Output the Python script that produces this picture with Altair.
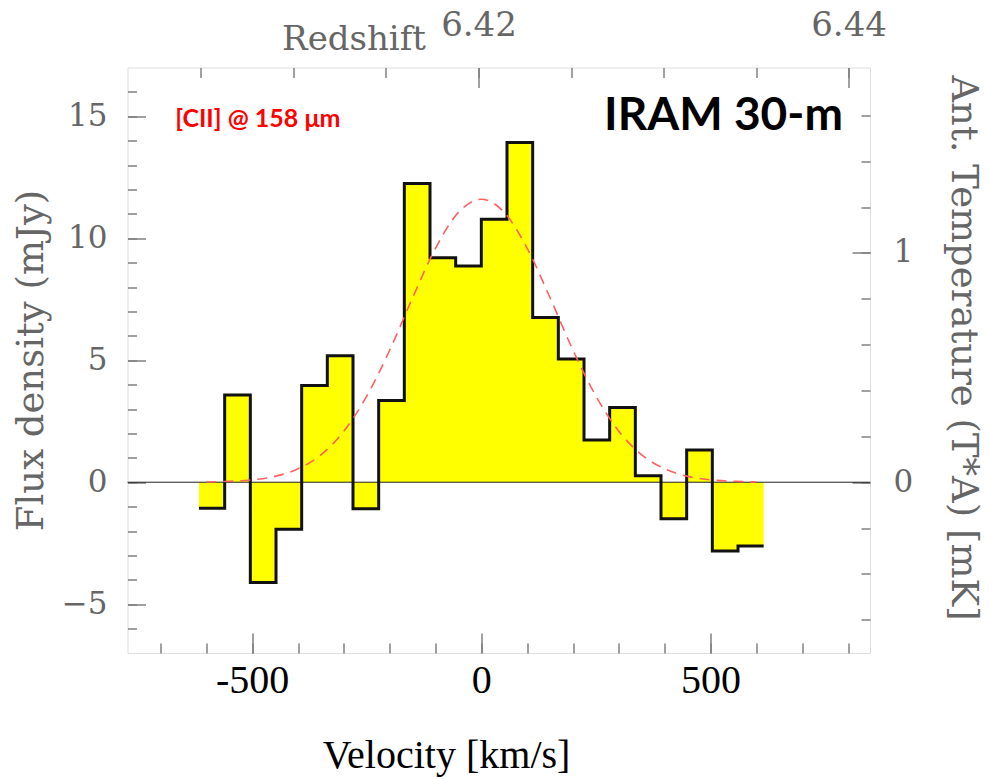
import altair as alt
import pandas as pd

# ---------------- data ----------------
bin_left = [-616, -560, -504, -448, -392, -336, -280, -224, -168, -112, -56,
            0, 56, 112, 168, 224, 280, 336, 392, 448, 504, 560]
bin_width = 56
flux = [-1.07, 3.58, -4.11, -1.93, 3.96, 5.18, -1.09, 3.35, 12.25, 9.20, 8.86,
        10.78, 13.93, 6.75, 5.05, 1.73, 3.06, 0.27, -1.50, 1.32, -2.82, -2.61]

fit_v = [-600, -550, -500, -450, -400, -350, -300, -250, -200, -150, -100, -50, 0,
         50, 100, 150, 200, 250, 300, 350, 400, 450, 500, 550, 600]
fit_flux = [0.01, 0.04, 0.10, 0.24, 0.55, 1.12, 2.09, 3.53, 5.41, 7.56, 9.59, 11.06, 11.60,
            11.06, 9.59, 7.56, 5.41, 3.53, 2.09, 1.12, 0.55, 0.24, 0.10, 0.04, 0.01]

zero_level = [0]

vel_major = [-500, 0, 500]
vel_minor = [-700, -600, -500, -400, -300, -200, -100, 0, 100, 200, 300, 400, 500, 600, 700, 800]
flux_major = [-5, 0, 5, 10, 15]
flux_minor = [-6, -5, -4, -3, -2, -1, 0, 1, 2, 3, 4, 5, 6, 7, 8, 9, 10, 11, 12, 13, 14, 15, 16]
z_major = [6.42, 6.44]
z_minor = [6.405, 6.41, 6.415, 6.42, 6.425, 6.43, 6.435, 6.44]
tmb_major = [0, 1]
tmb_minor = [-0.6, -0.4, -0.2, 0, 0.2, 0.4, 0.6, 0.8, 1.0, 1.2, 1.4, 1.6]

label_left = ["[CII] @ 158 μm"]
label_left_v = [-668]
label_left_f = [14.57]
label_right = ["IRAM 30-m"]
label_right_v = [789]
label_right_f = [14.44]

# ---------------- tables ----------------
hist = pd.DataFrame({"v": bin_left + [bin_left[-1] + bin_width],
                     "f": flux + [flux[-1]]})
fit = pd.DataFrame({"v": fit_v, "f": fit_flux})
zero_df = pd.DataFrame({"f": zero_level})
zmaj_df = pd.DataFrame({"z": z_major})
zmin_df = pd.DataFrame({"z": z_minor})
tmaj_df = pd.DataFrame({"t": tmb_major})
tmin_df = pd.DataFrame({"t": tmb_minor})
vmin_df = pd.DataFrame({"v": vel_minor})
ann_l = pd.DataFrame({"v": label_left_v, "f": label_left_f, "txt": label_left})
ann_r = pd.DataFrame({"v": label_right_v, "f": label_right_f, "txt": label_right})

# ---------------- scales ----------------
xs = alt.Scale(domain=[-772, 848], nice=False, zero=False)
ys = alt.Scale(domain=[-7, 17], nice=False, zero=False)
zs = alt.Scale(domain=[6.40103, 6.44116], nice=False, zero=False)
mk_per_mjy = 9.4
ts = alt.Scale(domain=[-7 / mk_per_mjy, 17 / mk_per_mjy], nice=False, zero=False)

GRAY = "#666666"
TICK = "#808080"
common = dict(domain=False, grid=False, tickColor=TICK, tickWidth=1.5,
              labelFlush=False, labelOverlap=False, labelBound=False)

ax_bottom_major = alt.Axis(
    orient="bottom", values=vel_major, tickSize={"expr": "-20"},
    labelPadding=59, labelBaseline="alphabetic", labelFont="Liberation Serif",
    labelFontSize=40, labelColor="black",
    labelExpr="datum.value < 0 ? '-' + (-datum.value) : '' + datum.value",
    title="Velocity [km/s]", titleFont="Liberation Serif", titleFontSize=40,
    titleFontWeight="normal", titleColor="black", titleX=318.5, titleY=114,
    titleAlign="center", titleBaseline="alphabetic", **common)
ax_bottom_minor = alt.Axis(orient="bottom", values=vel_minor, tickSize={"expr": "-10"},
                           labels=False, title=None, **common)

ax_left_major = alt.Axis(
    orient="left", values=flux_major, tickSize={"expr": "-18"},
    labelPadding=38.5, labelAlign="right", labelFont="DejaVu Serif",
    labelFontSize=31, labelColor=GRAY,
    title="Flux density (mJy)", titleFont="DejaVu Serif", titleFontSize=37,
    titleFontWeight="normal", titleColor=GRAY, titleAngle=270, titleX=-96,
    titleY=292.5, titleAlign="center", titleBaseline="middle", **common)
ax_left_minor = alt.Axis(orient="left", values=flux_minor, tickSize={"expr": "-9"},
                         labels=False, title=None, **common)

ax_top_major = alt.Axis(
    orient="top", values=z_major, tickSize={"expr": "-20"}, format=".2f",
    labelPadding=52, labelBaseline="alphabetic", labelFont="DejaVu Serif",
    labelFontSize=34, labelColor=GRAY,
    title="Redshift", titleFont="DejaVu Serif", titleFontSize=34,
    titleFontWeight="normal", titleColor=GRAY, titleX=226, titleY=-18,
    titleAlign="center", titleBaseline="alphabetic", **common)
ax_top_minor = alt.Axis(orient="top", values=z_minor, tickSize={"expr": "-10"},
                        labels=False, title=None, **common)

ax_right_major = alt.Axis(
    orient="right", values=tmb_major, tickSize={"expr": "-18"}, format="d",
    labelPadding=41, labelAlign="left", labelFont="DejaVu Serif",
    labelFontSize=31, labelColor=GRAY,
    title="Ant. Temperature (T*A) [mK]", titleFont="DejaVu Serif", titleFontSize=37,
    titleFontWeight="normal", titleColor=GRAY, titleAngle=90, titleX=92,
    titleY=280, titleAlign="center", titleBaseline="middle", **common)
ax_right_minor = alt.Axis(orient="right", values=tmb_minor, tickSize={"expr": "-9"},
                          labels=False, title=None, **common)

# ---------------- layers ----------------
area = alt.Chart(hist).mark_area(interpolate="step-after", color="#ffff00").encode(
    x=alt.X("v:Q", scale=xs, axis=ax_bottom_major),
    y=alt.Y("f:Q", scale=ys, axis=ax_left_major),
    y2=alt.Y2Datum(0),
)

zero = alt.Chart(zero_df).mark_rule(color="#222222", strokeWidth=1).encode(
    y=alt.Y("f:Q", scale=ys, axis=ax_left_minor),
)

step = alt.Chart(hist).mark_line(interpolate="step-after", color="#111111",
                                 strokeWidth=3, strokeJoin="miter").encode(
    x=alt.X("v:Q", scale=xs, axis=None),
    y=alt.Y("f:Q", scale=ys, axis=None),
)

gauss = alt.Chart(fit).mark_line(interpolate="monotone", color="#ff6060",
                                 strokeWidth=1.6, strokeDash=[10, 7]).encode(
    x=alt.X("v:Q", scale=xs, axis=None),
    y=alt.Y("f:Q", scale=ys, axis=None),
)

vminor = alt.Chart(vmin_df).mark_point(opacity=0).encode(
    x=alt.X("v:Q", scale=xs, axis=ax_bottom_minor),
)

ztop = alt.Chart(zmaj_df).mark_point(opacity=0).encode(
    x=alt.X("z:Q", scale=zs, axis=ax_top_major),
)
ztop_minor = alt.Chart(zmin_df).mark_point(opacity=0).encode(
    x=alt.X("z:Q", scale=zs, axis=ax_top_minor),
)
tright = alt.Chart(tmaj_df).mark_point(opacity=0).encode(
    y=alt.Y("t:Q", scale=ts, axis=ax_right_major),
)
tright_minor = alt.Chart(tmin_df).mark_point(opacity=0).encode(
    y=alt.Y("t:Q", scale=ts, axis=ax_right_minor),
)

txt_l = alt.Chart(ann_l).mark_text(align="left", baseline="alphabetic", font="Lato",
                                   fontWeight="bold", fontSize=25, color="#ff0000").encode(
    x=alt.X("v:Q", scale=xs, axis=None),
    y=alt.Y("f:Q", scale=ys, axis=None),
    text="txt:N",
)
txt_r = alt.Chart(ann_r).mark_text(align="right", baseline="alphabetic", font="Lato",
                                   fontWeight="bold", fontSize=46, color="#000000").encode(
    x=alt.X("v:Q", scale=xs, axis=None),
    y=alt.Y("f:Q", scale=ys, axis=None),
    text="txt:N",
)

chart = alt.layer(
    area, zero, step, gauss, vminor, ztop, ztop_minor, tright, tright_minor, txt_l, txt_r
).resolve_scale(
    x="independent", y="independent"
).properties(
    width=742.5, height=585.5,
    autosize=alt.AutoSizeParams(type="none"),
    padding={"left": 127.5, "top": 67.5, "right": 119, "bottom": 126},
).configure_view(
    stroke=TICK, strokeWidth=2
).configure(background="white")

chart.save("out.html", embed_options={"renderer": "svg", "actions": False})
